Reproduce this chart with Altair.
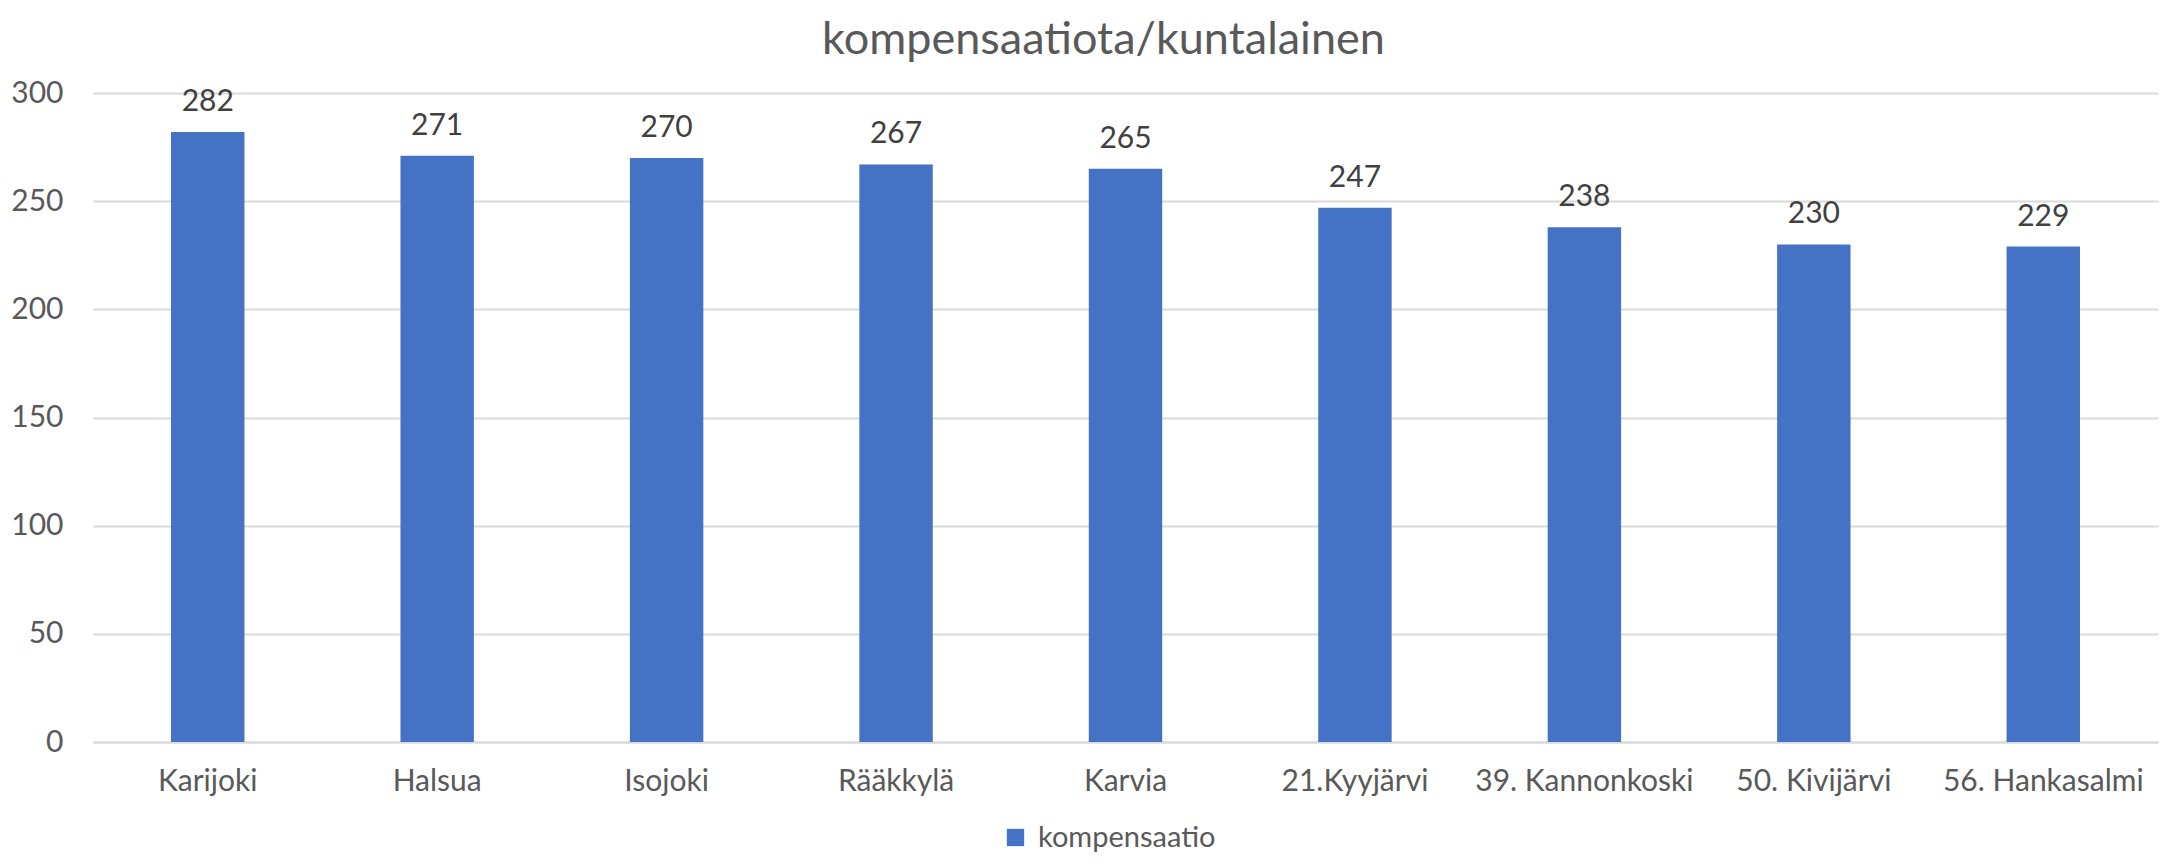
import altair as alt
import pandas as pd

categories = ["Karijoki", "Halsua", "Isojoki", "Rääkkylä", "Karvia",
              "21.Kyyjärvi", "39. Kannonkoski", "50. Kivijärvi", "56. Hankasalmi"]
values = [282, 271, 270, 267, 265, 247, 238, 230, 229]
series_name = "kompensaatio"
y_ticks = [0, 50, 100, 150, 200, 250, 300]

df = pd.DataFrame({"kunta": categories, "arvo": values, "sarja": [series_name] * len(categories)})

FONT = "Lato"
GREY = "#595959"

x = alt.X("kunta:N", sort=categories, title=None,
          scale=alt.Scale(paddingInner=0.68, paddingOuter=0.34),
          axis=alt.Axis(labelAngle=0, labelFontSize=30, labelColor=GREY, labelFont=FONT,
                        labelPadding=24, ticks=False, domainColor="#D9D9D9", domainWidth=2,
                        labelBaseline="top", labelLimit=0))
y = alt.Y("arvo:Q", title=None, scale=alt.Scale(domain=[0, 300], nice=False),
          axis=alt.Axis(values=y_ticks, labelFontSize=30, labelColor=GREY, labelFont=FONT,
                        labelPadding=30, ticks=False, domain=False, gridColor="#D9D9D9",
                        gridWidth=2))

bars = alt.Chart(df).mark_bar(stroke=None).encode(
    x=x, y=y,
    color=alt.Color("sarja:N", scale=alt.Scale(range=["#4472C4"]), title=None,
                    legend=alt.Legend(orient="none", legendX=908, legendY=730,
                                      symbolType="square", symbolSize=300,
                                      symbolStrokeWidth=0, labelFontSize=29,
                                      labelFont=FONT, labelColor=GREY, labelOffset=8,
                                      labelLimit=0)),
)

labels = alt.Chart(df).mark_text(baseline="alphabetic", dy=-21, fontSize=30, font=FONT,
                                 color="#404040").encode(
    x=alt.X("kunta:N", sort=categories), y="arvo:Q", text="arvo:Q")

chart = alt.layer(bars, labels).properties(
    width=2065, height=649,
    autosize=alt.AutoSizeParams(type="none"),
    padding={"left": 85, "top": 85, "right": 17, "bottom": 112},
    title=alt.TitleParams("kompensaatiota/kuntalainen", fontSize=45, font=FONT,
                          fontWeight="normal", color=GREY, anchor="middle", dx=-22,
                          offset=15),
).configure_view(stroke=None)

chart.save("out.html", embed_options={"renderer": "svg", "actions": False})
